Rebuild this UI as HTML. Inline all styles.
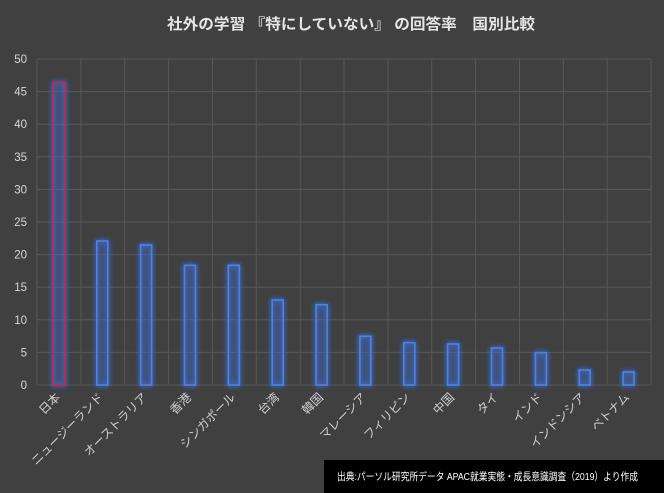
<!DOCTYPE html>
<html><head><meta charset="utf-8">
<style>
html,body{margin:0;padding:0;background:#404040;}
svg{display:block;}
text{font-family:"Liberation Sans","Noto Sans CJK JP",sans-serif;}
</style></head>
<body>
<svg width="664" height="493" viewBox="0 0 664 493" xmlns="http://www.w3.org/2000/svg">
<defs>
<filter id="glow" x="-100%" y="-20%" width="300%" height="140%">
<feGaussianBlur in="SourceAlpha" stdDeviation="2.6" result="b"/>
<feFlood flood-color="#3a70e0" flood-opacity="1"/>
<feComposite in2="b" operator="in" result="g"/>
<feMerge><feMergeNode in="g"/><feMergeNode in="g"/><feMergeNode in="SourceGraphic"/></feMerge>
</filter>
</defs>
<rect width="664" height="493" fill="#404040"/>
<text x="351" y="29" text-anchor="middle" font-size="15" font-weight="bold" fill="#e6e6e6" textLength="368" lengthAdjust="spacingAndGlyphs">社外の学習 『特にしていない』 の回答率　国別比較</text>
<g stroke="#585858" stroke-width="1">
<line x1="37" y1="59" x2="651" y2="59"/>
<line x1="37" y1="91.6" x2="651" y2="91.6"/>
<line x1="37" y1="124.2" x2="651" y2="124.2"/>
<line x1="37" y1="156.8" x2="651" y2="156.8"/>
<line x1="37" y1="189.4" x2="651" y2="189.4"/>
<line x1="37" y1="222" x2="651" y2="222"/>
<line x1="37" y1="254.6" x2="651" y2="254.6"/>
<line x1="37" y1="287.2" x2="651" y2="287.2"/>
<line x1="37" y1="319.8" x2="651" y2="319.8"/>
<line x1="37" y1="352.4" x2="651" y2="352.4"/>
<line x1="37" y1="385" x2="651" y2="385"/>
<line x1="37" y1="59" x2="37" y2="385"/>
<line x1="80.9" y1="59" x2="80.9" y2="385"/>
<line x1="124.7" y1="59" x2="124.7" y2="385"/>
<line x1="168.6" y1="59" x2="168.6" y2="385"/>
<line x1="212.4" y1="59" x2="212.4" y2="385"/>
<line x1="256.3" y1="59" x2="256.3" y2="385"/>
<line x1="300.2" y1="59" x2="300.2" y2="385"/>
<line x1="344" y1="59" x2="344" y2="385"/>
<line x1="387.9" y1="59" x2="387.9" y2="385"/>
<line x1="431.7" y1="59" x2="431.7" y2="385"/>
<line x1="475.6" y1="59" x2="475.6" y2="385"/>
<line x1="519.5" y1="59" x2="519.5" y2="385"/>
<line x1="563.3" y1="59" x2="563.3" y2="385"/>
<line x1="607.2" y1="59" x2="607.2" y2="385"/>
<line x1="651" y1="59" x2="651" y2="385"/>
</g>
<g font-size="11.5" fill="#d6d6d6" text-anchor="end">
<text x="27" y="63">50</text>
<text x="27" y="95.6">45</text>
<text x="27" y="128.2">40</text>
<text x="27" y="160.8">35</text>
<text x="27" y="193.4">30</text>
<text x="27" y="226">25</text>
<text x="27" y="258.6">20</text>
<text x="27" y="291.2">15</text>
<text x="27" y="323.8">10</text>
<text x="27" y="356.4">5</text>
<text x="27" y="389">0</text>
</g>
<g filter="url(#glow)" stroke-width="1.6" fill="rgba(70,110,200,0.12)">
<rect x="52.9" y="82.6" width="12" height="302.4" stroke="#c8203c"/>
<rect x="96.8" y="241" width="11" height="144" stroke="#5082e0"/>
<rect x="140.6" y="245" width="11" height="140" stroke="#5082e0"/>
<rect x="184.5" y="265.3" width="11" height="119.7" stroke="#5082e0"/>
<rect x="228.3" y="265.3" width="11" height="119.7" stroke="#5082e0"/>
<rect x="272.2" y="300" width="11" height="85" stroke="#5082e0"/>
<rect x="316.1" y="304.7" width="11" height="80.3" stroke="#5082e0"/>
<rect x="359.9" y="336.3" width="11" height="48.7" stroke="#5082e0"/>
<rect x="403.8" y="342.7" width="11" height="42.3" stroke="#5082e0"/>
<rect x="447.6" y="344" width="11" height="41" stroke="#5082e0"/>
<rect x="491.5" y="348" width="11" height="37" stroke="#5082e0"/>
<rect x="535.4" y="352.7" width="11" height="32.3" stroke="#5082e0"/>
<rect x="579.2" y="370" width="11" height="15" stroke="#5082e0"/>
<rect x="623.1" y="372" width="11" height="13" stroke="#5082e0"/>
</g>
<g font-size="12" fill="#cfcfcf" text-anchor="end">
<text x="61" y="398" transform="rotate(-45 61 398)">日本</text>
<text x="104" y="398" transform="rotate(-45 104 398)">ニュージーランド</text>
<text x="148" y="398" transform="rotate(-45 148 398)">オーストラリア</text>
<text x="192" y="398" transform="rotate(-45 192 398)">香港</text>
<text x="236" y="398" transform="rotate(-45 236 398)">シンガポール</text>
<text x="280" y="398" transform="rotate(-45 280 398)">台湾</text>
<text x="324" y="398" transform="rotate(-45 324 398)">韓国</text>
<text x="367" y="398" transform="rotate(-45 367 398)">マレーシア</text>
<text x="411" y="398" transform="rotate(-45 411 398)">フィリピン</text>
<text x="455" y="398" transform="rotate(-45 455 398)">中国</text>
<text x="499" y="398" transform="rotate(-45 499 398)">タイ</text>
<text x="543" y="398" transform="rotate(-45 543 398)">インド</text>
<text x="586" y="398" transform="rotate(-45 586 398)">インドンシア</text>
<text x="630" y="398" transform="rotate(-45 630 398)">ベトナム</text>
</g>
<rect x="324" y="460" width="340" height="33" fill="#000"/>
<text x="337" y="480" font-size="10.5" fill="#ffffff" textLength="301" lengthAdjust="spacingAndGlyphs">出典:パーソル研究所データ APAC就業実態・成長意識調査（2019）より作成</text>
</svg>
</body></html>
